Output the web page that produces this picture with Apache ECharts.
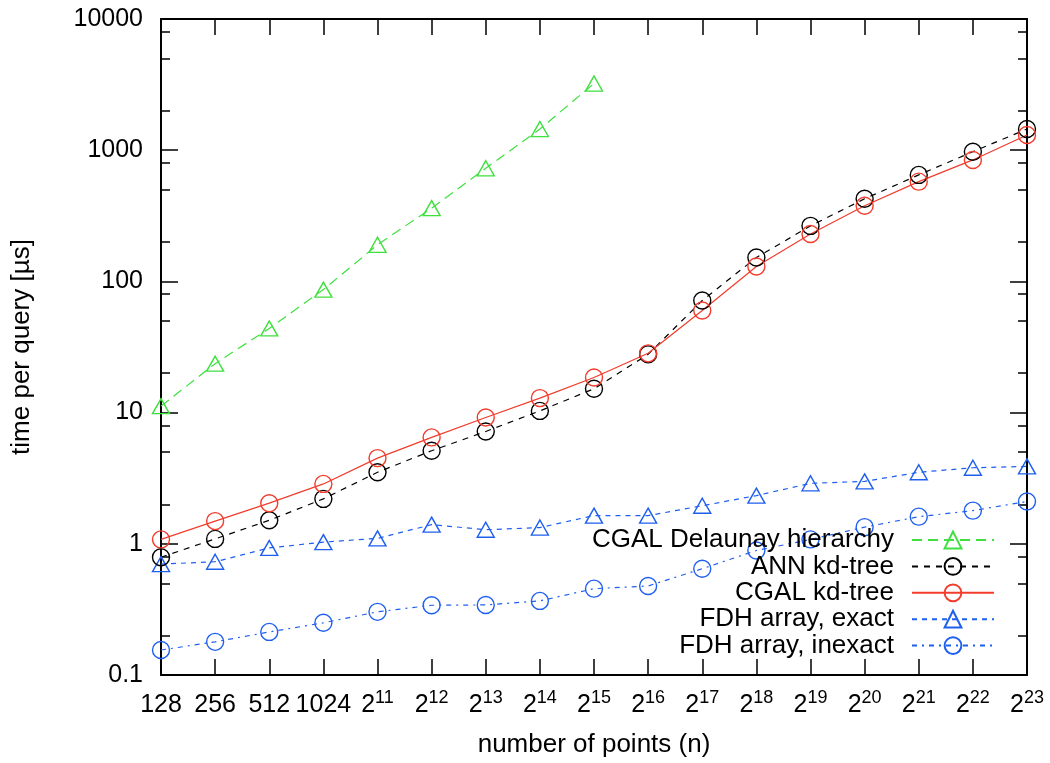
<!DOCTYPE html>
<html>
<head>
<meta charset="utf-8">
<script src="https://cdn.jsdelivr.net/npm/echarts@6/dist/echarts.min.js"></script>
<style>html,body{margin:0;padding:0;background:#fff;}#c{width:1050px;height:763px;}</style>
</head>
<body>
<div id="c"></div>
<script>
const categories = ['128','256','512','1024','2^11','2^12','2^13','2^14','2^15','2^16','2^17','2^18','2^19','2^20','2^21','2^22','2^23'];
const delaunay = [11.2, 23.6, 43.8, 86.6, 190, 362, 728, 1449, 3222];
const annKd = [0.79, 1.09, 1.51, 2.20, 3.51, 5.12, 7.18, 10.3, 15.2, 27.8, 71.5, 152, 265, 426, 648, 974, 1449];
const cgalKd = [1.08, 1.49, 2.04, 2.86, 4.5, 6.47, 9.18, 12.9, 18.5, 28.3, 60, 130, 230, 377, 576, 843, 1305];
const fdhExact = [0.70, 0.73, 0.93, 1.03, 1.10, 1.40, 1.28, 1.33, 1.64, 1.64, 1.95, 2.33, 2.89, 2.99, 3.51, 3.80, 3.89];
const fdhInexact = [0.155, 0.179, 0.213, 0.250, 0.303, 0.340, 0.342, 0.367, 0.455, 0.477, 0.646, 0.889, 1.08, 1.34, 1.61, 1.79, 2.10];
const yMajor = [0.1, 1, 10, 100, 1000, 10000];
const yMinor = [0.2, 0.5, 0.8, 2, 5, 8, 20, 50, 80, 200, 500, 800, 2000, 5000, 8000];

const FONT = '"Liberation Sans", Arial, sans-serif';
const GREEN = '#3ee03e', BLACK = '#000000', RED = '#f23c2c', BLUE = '#1f5ff0';

function mkSeries(name, data, color, symbol, dash, size) {
  return {
    name: name, type: 'line', data: data, xAxisIndex: 0, yAxisIndex: 0,
    symbol: symbol, symbolSize: size, showSymbol: true,
    lineStyle: { color: color, width: 1.2, type: dash },
    itemStyle: { color: 'rgba(0,0,0,0)', borderColor: color, borderWidth: 1.4 },
    emphasis: { disabled: true }
  };
}

const chart = echarts.init(document.getElementById('c'), null, { renderer: 'canvas' });
const baseY = { type: 'log', logBase: 10, min: 0.1, max: 10000, splitLine: { show: false } };
chart.setOption({
  animation: false,
  backgroundColor: '#fff',
  grid: { left: 161, right: 23, top: 19, bottom: 86 },
  xAxis: [
    {
      type: 'category', data: categories, boundaryGap: false, position: 'bottom',
      axisLine: { show: true, lineStyle: { color: '#000', width: 2 } },
      axisTick: { show: true, inside: true, length: 16, interval: 0, lineStyle: { color: '#000', width: 1.5 } },
      axisLabel: {
        interval: 0, margin: 14, color: '#000', fontFamily: FONT, fontSize: 25,
        formatter: function (v) {
          const i = v.indexOf('^');
          return i < 0 ? '{b|' + v + '}' : '{b|' + v.slice(0, i) + '}{s|' + v.slice(i + 1) + '}';
        },
        rich: {
          b: { fontFamily: FONT, fontSize: 25, lineHeight: 32, color: '#000' },
          s: { fontFamily: FONT, fontSize: 18, lineHeight: 16, verticalAlign: 'top', color: '#000' }
        }
      },
      name: 'number of points (n)', nameLocation: 'middle', nameGap: 57,
      nameTextStyle: { fontFamily: FONT, fontSize: 26, color: '#000' }
    },
    {
      type: 'category', data: categories, boundaryGap: false, position: 'top',
      axisLine: { show: true, lineStyle: { color: '#000', width: 2 } },
      axisTick: { show: true, inside: true, length: 16, interval: 0, lineStyle: { color: '#000', width: 1.5 } },
      axisLabel: { show: false }
    }
  ],
  yAxis: [
    Object.assign({}, baseY, {
      position: 'left',
      axisLine: { show: true, lineStyle: { color: '#000', width: 2 } },
      axisTick: { show: true, inside: true, length: 17, customValues: yMajor, lineStyle: { color: '#000', width: 1.5 } },
      axisLabel: { show: true, margin: 18, color: '#000', fontFamily: FONT, fontSize: 25, customValues: yMajor,
        formatter: function (v) { return String(v); } },
      name: 'time per query [µs]', nameLocation: 'middle', nameGap: 126, nameRotate: 90,
      nameTextStyle: { fontFamily: FONT, fontSize: 26, color: '#000' }
    }),
    Object.assign({}, baseY, {
      position: 'right',
      axisLine: { show: true, lineStyle: { color: '#000', width: 2 } },
      axisTick: { show: true, inside: true, length: 17, customValues: yMajor, lineStyle: { color: '#000', width: 1.5 } },
      axisLabel: { show: false }
    }),
    Object.assign({}, baseY, {
      position: 'left',
      axisLine: { show: false },
      axisTick: { show: true, inside: true, length: 9, customValues: yMinor, lineStyle: { color: '#000', width: 1.5 } },
      axisLabel: { show: false }
    }),
    Object.assign({}, baseY, {
      position: 'right',
      axisLine: { show: false },
      axisTick: { show: true, inside: true, length: 9, customValues: yMinor, lineStyle: { color: '#000', width: 1.5 } },
      axisLabel: { show: false }
    })
  ],
  legend: {
    orient: 'vertical', align: 'right', right: 55, top: 527, padding: 0,
    itemWidth: 82, itemHeight: 21, itemGap: 0.4,
    textStyle: { fontFamily: FONT, fontSize: 26, lineHeight: 21, color: '#000', padding: [0, 13, 0, 0] },
    data: ['CGAL Delaunay hierarchy', 'ANN kd-tree', 'CGAL kd-tree', 'FDH array, exact', 'FDH array, inexact']
  },
  series: [
    mkSeries('FDH array, inexact', fdhInexact, BLUE, 'circle', [5, 5, 2, 5], 17),
    mkSeries('FDH array, exact', fdhExact, BLUE, 'triangle', [5, 5], [17, 15]),
    mkSeries('ANN kd-tree', annKd, BLACK, 'circle', [6, 6], 17),
    mkSeries('CGAL kd-tree', cgalKd, RED, 'circle', 'solid', 17),
    mkSeries('CGAL Delaunay hierarchy', delaunay, GREEN, 'triangle', [10, 6], [17, 15])
  ]
});
</script>
</body>
</html>
